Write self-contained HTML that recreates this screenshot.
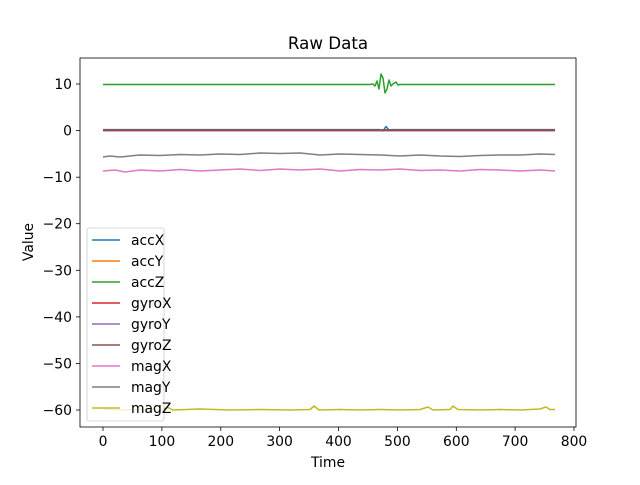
<!DOCTYPE html>
<html><head><meta charset="utf-8"><style>
body{margin:0;background:#fff}
svg text{font-family:"DejaVu Sans","Liberation Sans",sans-serif;fill:#000}
</style></head><body>
<svg width="640" height="480" viewBox="0 0 640 480" xmlns="http://www.w3.org/2000/svg">
<rect width="640" height="480" fill="#fff"/>
<text x="328" y="49" font-size="16.7" text-anchor="middle">Raw Data</text>
<g fill="none" stroke-width="1.5" stroke-linejoin="round">
<polyline stroke="#bcbd22" points="103,409 120,410 140,409.5 160,410 168,407.5 173,410 200,409 230,410 260,409.5 290,410 310,409.5 314,406 319,410 340,409.5 360,410 380,409.5 400,410 420,409.5 428,407 433,410 450,409.5 453,406 458,409.5 480,410 500,409.5 520,410 540,409 546,407 550,409.5 555,409.5"/>
<polyline stroke="#e377c2" points="103,171 115,170 125,172 140,170 160,171 180,169.5 200,171 220,170 240,169 260,170.5 280,169 300,170 320,169 340,171 360,169.5 380,170 400,169 420,170.5 440,170 460,171 480,169.5 500,170 520,171 540,170 555,171"/>
<polyline stroke="#7f7f7f" points="103,157 110,156 120,157 140,155 160,155.5 180,154.5 200,155 220,154 240,154.5 260,153 280,153.5 300,153 320,155 340,154 360,154.5 380,155 400,156 420,155 440,156 460,156.5 480,155.5 500,155 520,155 540,154 555,154.5"/>
<polyline stroke="#8c564b" points="103,130.5 555,130.5"/>
<polyline stroke="#9467bd" points="103,130.6 555,130.6"/>
<polyline stroke="#d62728" points="103,130.4 555,130.4"/>
<polyline stroke="#ff7f0e" points="103,129.8 555,129.8"/>
<polyline stroke="#1f77b4" points="103,129.6 380,129.6 383,131 386,126.5 389,130 392,129.6 555,129.6"/>
<polyline stroke="#8c564b" points="103,130 555,130"/>
<polyline stroke="#2ca02c" points="103,84.5 370,84.5 373,84 375,86 377,81 379,89 381,74 383,78 385,93 387,89 389,80 391,86 393,84 396,82 398,85 400,84.5 555,84.5"/>
</g>
<rect x="80" y="58" width="496" height="369" fill="none" stroke="#000" stroke-width="0.8"/>
<g stroke="#000" stroke-width="0.8">
<line x1="103" y1="427" x2="103" y2="431"/><line x1="161.9" y1="427" x2="161.9" y2="431"/><line x1="220.8" y1="427" x2="220.8" y2="431"/><line x1="279.6" y1="427" x2="279.6" y2="431"/><line x1="338.5" y1="427" x2="338.5" y2="431"/><line x1="397.4" y1="427" x2="397.4" y2="431"/><line x1="456.3" y1="427" x2="456.3" y2="431"/><line x1="515.1" y1="427" x2="515.1" y2="431"/><line x1="574" y1="427" x2="574" y2="431"/>
<line x1="76" y1="84" x2="80" y2="84"/><line x1="76" y1="130.6" x2="80" y2="130.6"/><line x1="76" y1="177.2" x2="80" y2="177.2"/><line x1="76" y1="223.7" x2="80" y2="223.7"/><line x1="76" y1="270.3" x2="80" y2="270.3"/><line x1="76" y1="316.9" x2="80" y2="316.9"/><line x1="76" y1="363.4" x2="80" y2="363.4"/><line x1="76" y1="410" x2="80" y2="410"/>
</g>
<g font-size="13.9" text-anchor="middle">
<text x="103" y="446">0</text><text x="161.9" y="446">100</text><text x="220.8" y="446">200</text><text x="279.6" y="446">300</text><text x="338.5" y="446">400</text><text x="397.4" y="446">500</text><text x="456.3" y="446">600</text><text x="515.1" y="446">700</text><text x="574" y="446">800</text>
</g>
<g font-size="13.9" text-anchor="end">
<text x="72" y="89">10</text><text x="72" y="135.6">0</text><text x="72" y="182.2">−10</text><text x="72" y="228.7">−20</text><text x="72" y="275.3">−30</text><text x="72" y="321.9">−40</text><text x="72" y="368.4">−50</text><text x="72" y="415">−60</text>
</g>
<text x="328" y="467" font-size="13.9" text-anchor="middle">Time</text>
<text transform="translate(33,242) rotate(-90)" font-size="13.9" text-anchor="middle">Value</text>
<rect x="87" y="228" width="77" height="193" rx="2" fill="#fff" fill-opacity="0.8" stroke="#ccc" stroke-width="0.8"/>
<g stroke-width="1.5">
<line x1="92" y1="240" x2="120" y2="240" stroke="#1f77b4"/>
<line x1="92" y1="261" x2="120" y2="261" stroke="#ff7f0e"/>
<line x1="92" y1="282" x2="120" y2="282" stroke="#2ca02c"/>
<line x1="92" y1="303" x2="120" y2="303" stroke="#d62728"/>
<line x1="92" y1="324" x2="120" y2="324" stroke="#9467bd"/>
<line x1="92" y1="345" x2="120" y2="345" stroke="#8c564b"/>
<line x1="92" y1="366" x2="120" y2="366" stroke="#e377c2"/>
<line x1="92" y1="387" x2="120" y2="387" stroke="#7f7f7f"/>
<line x1="92" y1="408" x2="120" y2="408" stroke="#bcbd22"/>
</g>
<g font-size="13.9">
<text x="131" y="245">accX</text><text x="131" y="266">accY</text><text x="131" y="287">accZ</text><text x="131" y="308">gyroX</text><text x="131" y="329">gyroY</text><text x="131" y="350">gyroZ</text><text x="131" y="371">magX</text><text x="131" y="392">magY</text><text x="131" y="413">magZ</text>
</g>
</svg>
</body></html>
